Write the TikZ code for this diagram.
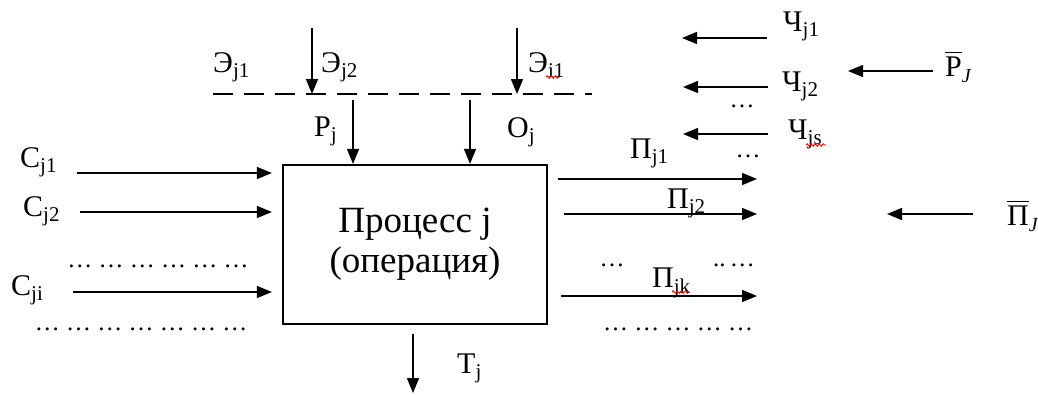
\documentclass[tikz,border=0pt]{standalone}
\usepackage{fontspec}
\setmainfont{Liberation Serif}
\usetikzlibrary{arrows.meta,decorations.pathmorphing}
\newcommand{\sbs}[1]{\textsubscript{#1}}
\newcommand{\barlbl}[1]{\vbox{\hrule height 1.4pt\kern 3pt\hbox{#1}}}
\begin{document}
\begin{tikzpicture}[x=1pt,y=-1pt,
  lbl/.style={font=\fontsize{30}{32}\selectfont, inner sep=0pt, anchor=base west},
  dots/.style={font=\fontsize{25}{28}\selectfont, inner sep=0pt},
  arr/.style={-{Triangle[length=15pt,width=12pt]}, line width=1.5pt},
  procbox/.style={draw, line width=2.2pt, minimum width=264pt, minimum height=159pt, align=center, font=\fontsize{37}{40}\selectfont},
  wavy/.style={red, line width=0.9pt, decorate, decoration={snake, amplitude=1.2pt, segment length=4pt}}]
\useasboundingbox (0,0) rectangle (1038,394);

% process box
\node[procbox] (box) at (415,244.5) {Процесс j\\(операция)};

% dashed line
\coordinate (dl) at (213,94);
\coordinate (dr) at (592,94);
\draw[line width=1.3pt, dash pattern=on 20pt off 11pt] (dl) -- (dr);

% top arrows to the dashed line
\coordinate (e2s) at (312,28); \coordinate (e2e) at (312,94);
\coordinate (e3s) at (517,28); \coordinate (e3e) at (517,94);
\draw[arr] (e2s) -- (e2e);
\draw[arr] (e3s) -- (e3e);
\node[lbl] (e1) at (213,72) {Э\sbs{j1}};
\node[lbl] (e2) at (321,72) {Э\sbs{j2}};
\node[lbl] (e3) at (528,72) {Э\sbs{i1}};
\draw[wavy] (546,77) -- (560,77);

% arrows into box from dashed line
\coordinate (ps) at (353,100);
\coordinate (os) at (470,100);
\draw[arr] (ps) -- (ps |- box.north);
\draw[arr] (os) -- (os |- box.north);
\node[lbl] (p) at (314,136) {Р\sbs{j}};
\node[lbl] (o) at (507,137) {О\sbs{j}};

% left inputs
\coordinate (c1s) at (77,173);
\coordinate (c2s) at (80,212);
\coordinate (c3s) at (73,292);
\draw[arr] (c1s) -- ([xshift=-10pt]box.west |- c1s);
\draw[arr] (c2s) -- ([xshift=-10pt]box.west |- c2s);
\draw[arr] (c3s) -- ([xshift=-10pt]box.west |- c3s);
\node[lbl] (c1) at (20,167) {С\sbs{j1}};
\node[lbl] (c2) at (23,216) {С\sbs{j2}};
\node[lbl] (c3) at (11,295) {С\sbs{ji}};
\node[dots] (ld1) at (158,266) {… … … … … …};
\node[dots] (ld2) at (141,329) {… … … … … … …};

% bottom output
\coordinate (te) at (413,393);
\draw[arr] (box.south -| te) ++(0,9) -- (te);
\node[lbl] (t) at (457,373) {Т\sbs{j}};

% right outputs
\coordinate (q1e) at (757,179);
\coordinate (q2e) at (757,214);
\coordinate (q3e) at (757,296);
\draw[arr] ([xshift=10pt]box.east |- q1e) -- (q1e);
\draw[arr] ([xshift=16pt]box.east |- q2e) -- (q2e);
\draw[arr] ([xshift=13pt]box.east |- q3e) -- (q3e);
\node[lbl] (q1) at (630,158) {П\sbs{j1}};
\node[lbl] (q2) at (667,208) {П\sbs{j2}};
\node[lbl] (q3) at (652,287) {П\sbs{jk}};
\draw[wavy] (672,292) -- (690,292);
\node[dots] (rd0) at (748,156) {…};
\node[dots] (rd1) at (612,265) {…};
\node[dots] (rd2) at (734,265) {..\,…};
\node[dots] (rd3) at (678,329) {… … … … …};

% Ч arrows
\coordinate (h1s) at (767,38); \coordinate (h1e) at (682,38);
\coordinate (h2s) at (768,87); \coordinate (h2e) at (683,87);
\coordinate (h3s) at (768,134); \coordinate (h3e) at (683,134);
\draw[arr] (h1s) -- (h1e);
\draw[arr] (h2s) -- (h2e);
\draw[arr] (h3s) -- (h3e);
\node[lbl] (h1) at (783,31) {Ч\sbs{j1}};
\node[lbl] (h2) at (782,91) {Ч\sbs{j2}};
\node[lbl] (h3) at (788,139) {Ч\sbs{js}};
\draw[wavy] (806,145) -- (826,145);
\node[dots] (hd) at (742,106) {…};

% aggregated
\coordinate (pbs) at (933,71); \coordinate (pbe) at (848,71);
\draw[arr] (pbs) -- (pbe);
\node[lbl] (pb) at (945,76) {\barlbl{Р}\raisebox{-6pt}{\fontsize{20}{20}\selectfont\itshape J}};
\coordinate (qbs) at (973,214); \coordinate (qbe) at (887,214);
\draw[arr] (qbs) -- (qbe);
\node[lbl] (qb) at (1007,225) {\barlbl{П}\raisebox{-6pt}{\fontsize{20}{20}\selectfont\itshape J}};
\end{tikzpicture}
\end{document}
